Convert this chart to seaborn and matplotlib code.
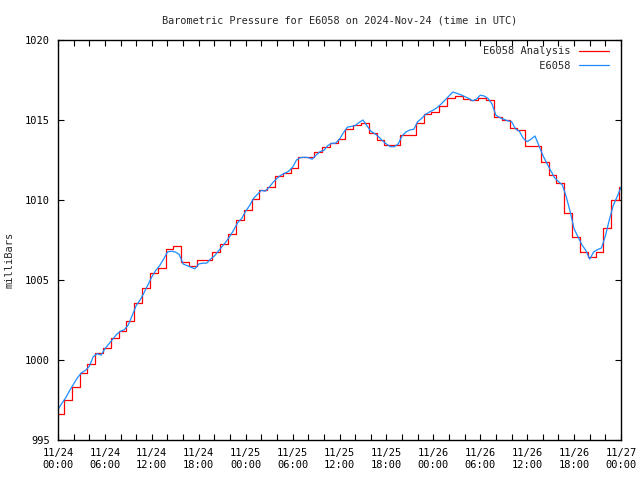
import pandas as pd
import matplotlib
matplotlib.use("Agg")
import matplotlib.pyplot as plt
import matplotlib.dates as mdates
import seaborn as sns

# hourly analysis values (step line), hour 0..72
analysis = [
    996.6, 997.5, 998.3, 999.17, 999.73, 1000.42, 1000.73, 1001.35, 1001.81, 1002.44,
    1003.54, 1004.48, 1005.42, 1005.77, 1006.92, 1007.12, 1006.15, 1005.87, 1006.25, 1006.25,
    1006.73, 1007.23, 1007.86, 1008.75, 1009.38, 1010.06, 1010.63, 1010.79, 1011.5, 1011.71,
    1011.98, 1012.67, 1012.67, 1012.98, 1013.29, 1013.54, 1013.79, 1014.42, 1014.69, 1014.79,
    1014.21, 1013.75, 1013.44, 1013.44, 1014.06, 1014.06, 1014.79, 1015.36, 1015.52, 1015.88,
    1016.35, 1016.48, 1016.31, 1016.25, 1016.35, 1016.25, 1015.2, 1015.0, 1014.5, 1014.4,
    1013.38, 1013.38, 1012.4, 1011.56, 1011.04, 1009.17, 1007.67, 1006.77, 1006.46, 1006.73,
    1008.23, 1010.0, 1010.79,
]

# station observations, every 30 minutes
station = [
    996.9, 997.3, 997.65, 998.1, 998.5, 998.9, 999.2, 999.35, 999.6, 1000.2,
    1000.4, 1000.3, 1000.7, 1001.0, 1001.3, 1001.6, 1001.8, 1001.9, 1002.2, 1002.8,
    1003.4, 1003.75, 1004.2, 1004.7, 1005.2, 1005.6, 1005.9, 1006.3, 1006.75, 1006.8,
    1006.75, 1006.6, 1006.0, 1005.9, 1005.8, 1005.7, 1006.0, 1006.05, 1006.05, 1006.3,
    1006.5, 1006.8, 1007.1, 1007.4, 1007.75, 1008.15, 1008.6, 1008.85, 1009.3, 1009.65,
    1010.1, 1010.35, 1010.6, 1010.55, 1010.8, 1011.1, 1011.35, 1011.55, 1011.67, 1011.8,
    1012.05, 1012.5, 1012.65, 1012.67, 1012.65, 1012.55, 1012.8, 1013.02, 1013.1, 1013.4,
    1013.54, 1013.55, 1013.8, 1014.2, 1014.55, 1014.6, 1014.65, 1014.85, 1015.0, 1014.65,
    1014.3, 1014.15, 1013.95, 1013.7, 1013.5, 1013.33, 1013.33, 1013.5, 1014.0, 1014.25,
    1014.38, 1014.42, 1014.9, 1015.1, 1015.35, 1015.5, 1015.62, 1015.78, 1016.0, 1016.25,
    1016.5, 1016.75, 1016.67, 1016.58, 1016.47, 1016.35, 1016.2, 1016.3, 1016.55, 1016.5,
    1016.35, 1016.0, 1015.3, 1015.15, 1015.05, 1014.95, 1014.9, 1014.45, 1014.3, 1013.85,
    1013.65, 1013.8, 1014.0, 1013.4, 1012.8, 1012.3, 1011.85, 1011.4, 1011.15, 1010.94,
    1010.2, 1009.27, 1008.2, 1007.7, 1007.2, 1006.85, 1006.3, 1006.75, 1006.9, 1007.0,
    1007.75, 1008.75, 1009.65, 1010.2, 1010.8,
]

analysis_time = pd.date_range("2024-11-23 23:45", periods=len(analysis), freq="h")
station_time = pd.date_range("2024-11-24 00:00", periods=len(station), freq="30min")

sns.set_style("ticks")
plt.rcParams["font.family"] = ["DejaVu Sans Mono"]
plt.rcParams["font.size"] = 7

fig = plt.figure(figsize=(6.4, 4.8), dpi=100)
ax = fig.add_axes([58 / 640, 40 / 480, 563 / 640, 400 / 480])

sns.lineplot(x=analysis_time, y=analysis, ax=ax, color="#ff0000", linewidth=0.9,
             drawstyle="steps-post", label="E6058 Analysis")
sns.lineplot(x=station_time, y=station, ax=ax, color="#1e8cff", linewidth=0.9,
             label="         E6058")

ax.set_xlim(pd.Timestamp("2024-11-24 00:00"), pd.Timestamp("2024-11-27 00:00"))
ax.set_ylim(995, 1020)
ax.set_yticks(range(995, 1021, 5))
ax.xaxis.set_major_locator(mdates.HourLocator(byhour=[0, 6, 12, 18]))
ax.xaxis.set_minor_locator(mdates.HourLocator(interval=2))
ax.xaxis.set_major_formatter(mdates.DateFormatter("%m/%d\n%H:%M"))

ax.tick_params(which="both", direction="in", top=True, right=True, length=4,
               width=0.8, color="black", labelsize=7.5, colors="black")
ax.tick_params(axis="x", pad=6)
ax.tick_params(axis="y", pad=6)
for s in ax.spines.values():
    s.set_linewidth(1.0)
    s.set_color("black")

ax.set_title("Barometric Pressure for E6058 on 2024-Nov-24 (time in UTC)",
             fontsize=7.4, pad=12)
ax.set_xlabel("")
ax.set_ylabel("milliBars", fontsize=7.5)
ax.yaxis.set_label_coords(-0.078, 0.45)

ax.legend(loc="upper right", bbox_to_anchor=(0.99, 1.0), frameon=False,
          markerfirst=False, handlelength=2.9, handletextpad=0.8,
          labelspacing=0.45, fontsize=7.5, borderaxespad=0.2)

fig.savefig("out.png", dpi=100, facecolor="white")
